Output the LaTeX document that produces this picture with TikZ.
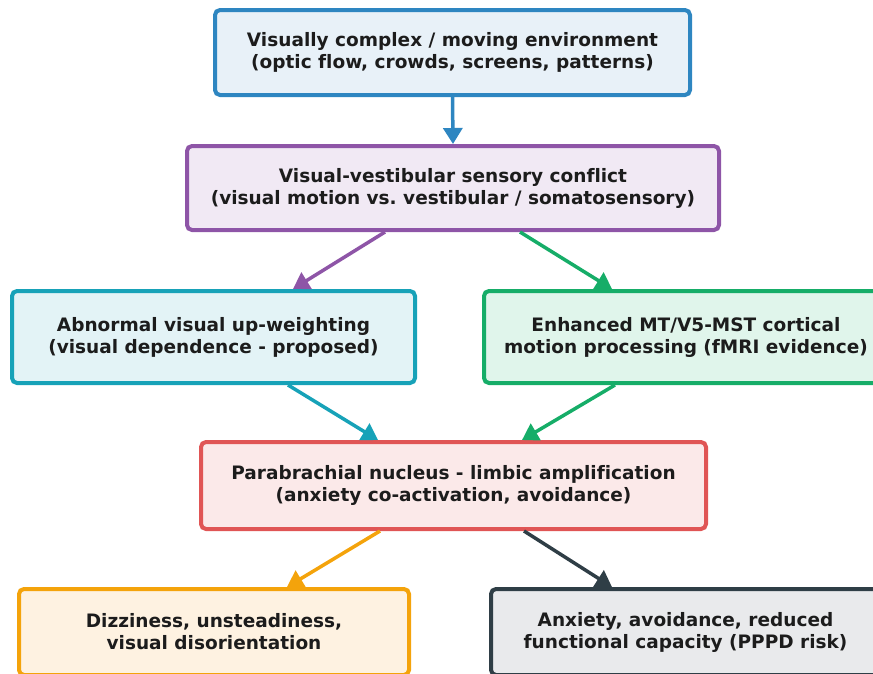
\documentclass[tikz,border=0pt]{standalone}
\usepackage{fontspec}
\setmainfont[Ligatures=NoCommon]{DejaVu Sans}
\usetikzlibrary{arrows.meta}
\definecolor{envline}{HTML}{2E86C1}
\definecolor{envfill}{HTML}{E8F1F8}
\definecolor{confline}{HTML}{8E55A7}
\definecolor{conffill}{HTML}{F1E9F4}
\definecolor{visline}{HTML}{17A2B8}
\definecolor{visfill}{HTML}{E3F3F6}
\definecolor{mtline}{HTML}{16AD68}
\definecolor{mtfill}{HTML}{E0F5EB}
\definecolor{pbnline}{HTML}{E05555}
\definecolor{pbnfill}{HTML}{FBE9E9}
\definecolor{dizline}{HTML}{F4A30B}
\definecolor{dizfill}{HTML}{FEF2E1}
\definecolor{anxline}{HTML}{2F3E46}
\definecolor{anxfill}{HTML}{E9EAEC}
\definecolor{ink}{HTML}{1C1C1C}
\frenchspacing

\begin{document}
\begin{tikzpicture}[x=1pt,y=-1pt,
  box/.style={draw,line width=4pt,rounded corners=5pt,align=center,inner sep=0pt,
    text=ink,font=\bfseries\fontsize{18.5}{22}\selectfont},
  link/.style={line width=3.5pt,-{Triangle[length=16pt,width=19pt]}}]
\useasboundingbox (0,0) rectangle (873,673);
% boxes, top to bottom
\node[box,draw=envline,fill=envfill,minimum width=475pt,minimum height=85pt] (env) at (452.5,52.5)
  {Visually complex / moving environment\\(optic flow, crowds, screens, patterns)};
\node[box,draw=confline,fill=conffill,minimum width=532pt,minimum height=84pt] (conflict) at (453,188)
  {Visual-vestibular sensory conflict\\(visual motion vs. vestibular / somatosensory)};
\node[box,draw=visline,fill=visfill,minimum width=403pt,minimum height=92pt] (visual) at (213.5,337)
  {Abnormal visual up-weighting\\(visual dependence - proposed)};
\node[box,draw=mtline,fill=mtfill,minimum width=404pt,minimum height=92pt] (mt) at (686,337)
  {Enhanced MT/V5-MST cortical\\motion processing (fMRI evidence)};
\node[box,draw=pbnline,fill=pbnfill,minimum width=505pt,minimum height=87pt] (pbn) at (453.5,485.5)
  {Parabrachial nucleus - limbic amplification\\(anxiety co-activation, avoidance)};
\node[box,draw=dizline,fill=dizfill,minimum width=390pt,minimum height=86pt] (dizzy) at (214,632)
  {Dizziness, unsteadiness,\\visual disorientation};
\node[box,draw=anxline,fill=anxfill,minimum width=389pt,minimum height=86pt] (anx) at (685.5,632)
  {Anxiety, avoidance, reduced\\functional capacity (PPPD risk)};
% arrows
\draw[link,envline] (env.south) -- (conflict.north);
\draw[link,confline] ([xshift=-68pt]conflict.south) -- ([xshift=79.5pt]visual.north);
\draw[link,mtline] ([xshift=67pt]conflict.south) -- ([xshift=-74pt]mt.north);
\draw[link,visline] ([xshift=74.5pt]visual.south) -- ([xshift=-75.5pt]pbn.north);
\draw[link,mtline] ([xshift=-71pt]mt.south) -- ([xshift=68.5pt]pbn.north);
\draw[link,dizline] ([xshift=-73.5pt]pbn.south) -- ([xshift=73pt]dizzy.north);
\draw[link,anxline] ([xshift=70.5pt]pbn.south) -- ([xshift=-73.5pt]anx.north);
\end{tikzpicture}
\end{document}
